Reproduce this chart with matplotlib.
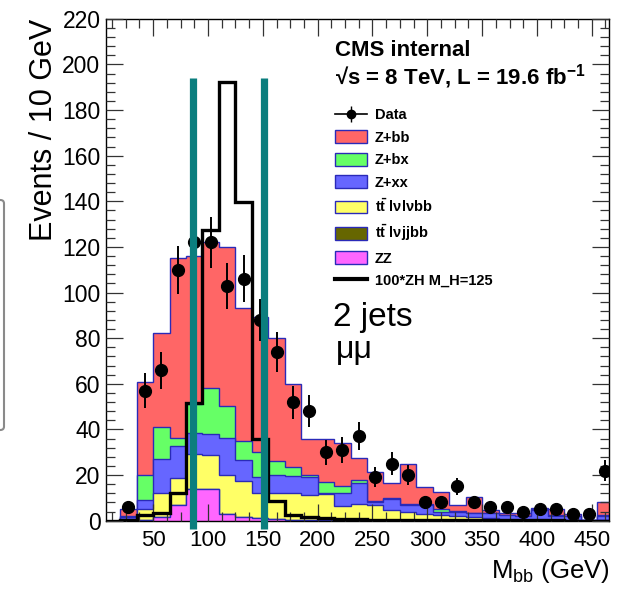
import numpy as np
import matplotlib
matplotlib.use("Agg")
import matplotlib.pyplot as plt
from matplotlib.patches import Rectangle, FancyBboxPatch
from matplotlib.lines import Line2D
from matplotlib.legend_handler import HandlerTuple
from matplotlib.ticker import MultipleLocator

plt.rcParams['font.family'] = ['Liberation Sans', 'DejaVu Sans']
plt.rcParams['mathtext.fontset'] = 'custom'
plt.rcParams['mathtext.rm'] = 'Liberation Sans'
plt.rcParams['mathtext.bf'] = 'Liberation Sans:bold'
plt.rcParams['mathtext.it'] = 'Liberation Sans:italic'
plt.rcParams['mathtext.default'] = 'regular'

# ---------------- data (15 GeV bins starting at 20 GeV) ----------------
BIN_LO = 20
BIN_W = 15
data = [6, 57, 66, 110, 122, 122, 103, 106, 88, 74, 52, 48, 30, 31, 37,
        19, 25, 20, 8, 8, 15, 8, 6, 6, 4, 5, 5, 3, 3, 22]
zz = [0.2, 0.5, 1.5, 7, 14, 14, 3, 1.5, 1, 0.8, 0.5, 0.5, 0.4, 0.4, 0.3,
      0.3, 0.3, 0.2, 0.2, 0.2, 0.1, 0.1, 0.1, 0.1, 0.1, 0.1, 0.1, 0.1, 0.0, 0.1]
tt_lvjjbb = [0.0, 0.0, 0.1, 0.1, 0.1, 0.1, 0.1, 0.1, 0.1, 0.0, 0.0, 0.0, 0.0, 0.0, 0.0,
             0.0, 0.0, 0.0, 0.0, 0.0, 0.0, 0.0, 0.0, 0.0, 0.0, 0.0, 0.0, 0.0, 0.0, 0.0]
tt_lvlvbb = [0.6, 4.5, 10.5, 11.5, 15, 14.5, 17, 16, 11, 11.2, 11.5, 10.7, 11.1, 6.1, 7.2,
             6.6, 4.4, 3.8, 2.8, 2.3, 1.9, 1.7, 0.9, 0.4, 0.4, 0.4, 0.4, 0.2, 0.1, 0.4]
z_xx = [1.0, 4, 15, 14, 9.5, 9.5, 16, 9, 7, 8, 7.5, 8.1, 0.5, 5.5, 9.2,
        1.1, 5, 2.9, 4, 1.5, 2, 1.4, 2.2, 2, 1.5, 4.3, 1.5, 1.7, 0.1, 1.5]
z_bx = [0.4, 11, 14, 3.5, 12.5, 20, 14, 8.5, 11, 6, 4, 0.7, 5, 3, 1.3,
        0.5, 0.3, 0.3, 0.3, 1, 0.3, 0.3, 0.2, 0.2, 0.2, 0.2, 0.5, 0.2, 0.05, 0.5]
z_bb = [2.8, 41, 41, 79, 65, 64, 70, 58, 59, 54, 36.5, 16, 18.7, 19.2, 9.3,
        13, 6.4, 17.5, 7.4, 7.4, 2.5, 7, 1.1, 0.8, 1, 0.4, 2.5, 0.7, 0.05, 5.8]
signal_zh = [0.3, 2.5, 3.5, 12.3, 51.5, 127.4, 192.4, 139.8, 35.8, 8.5, 2.5, 1.5, 1.2, 0.8, 0.6,
             0.5, 0.4, 0.3, 0.3, 0.2, 0.2, 0.1, 0.1, 0.1, 0.1, 0.1, 0.1, 0.0, 0.0, 0.0]
window = [86.5, 151.5]

labels = ["Z+bb", "Z+bx", "Z+xx", r"$\mathbf{t\bar{t}}$ l$\nu$l$\nu$bb",
          r"$\mathbf{t\bar{t}}$ l$\nu$jjbb", "ZZ"]
XMIN, XMAX = 7, 466

# ---------------- figure ----------------
W, H = 621, 589
fig = plt.figure(figsize=(W / 100, H / 100), dpi=100)
L, R, T, B = 106, 609.3, 18.8, 520.7
ax = fig.add_axes([L / W, 1 - B / H, (R - L) / W, (B - T) / H])

edges = BIN_LO + BIN_W * np.arange(len(data) + 1)
centers = 0.5 * (edges[:-1] + edges[1:])

comps = [(zz, '#ff66ff'), (tt_lvjjbb, '#666600'), (tt_lvlvbb, '#ffff66'),
         (z_xx, '#6666ff'), (z_bx, '#66ff66'), (z_bb, '#ff6666')]
cum = np.cumsum([np.array(c, float) for c, _ in comps], axis=0)
outline = '#2a2ab8'
for k in range(len(comps) - 1, -1, -1):
    ax.stairs(cum[k], edges, baseline=0, fill=True, facecolor=comps[k][1],
              edgecolor=outline, lw=1.0, zorder=1)

ax.stairs(np.r_[0.0, signal_zh], np.r_[XMIN, edges], baseline=0,
          color='k', lw=2.4, zorder=3)

d = np.array(data, float)
ax.errorbar(centers, d, yerr=np.sqrt(d), fmt='o', color='k', ms=8.5,
            elinewidth=1.4, capsize=0, zorder=4)

ax.vlines(window, -3.6, 194, color='#0b7e7e', lw=5.2, zorder=6, clip_on=False)

ax.set_xlim(XMIN, XMAX)
ax.set_ylim(0, 220)
ax.xaxis.set_major_locator(MultipleLocator(50))
ax.xaxis.set_minor_locator(MultipleLocator(12.5))
ax.yaxis.set_major_locator(MultipleLocator(20))
ax.yaxis.set_minor_locator(MultipleLocator(4))
ax.set_axisbelow(False)
ax.tick_params(which='both', direction='in', top=True, right=True,
               color='#333333', width=0.9)
ax.tick_params(which='major', length=12.5)
ax.tick_params(which='minor', length=6.5)
ax.tick_params(axis='x', labelsize=16, pad=7)
ax.tick_params(axis='y', labelsize=16.5, pad=4)
for s in ax.spines.values():
    s.set_linewidth(1.0)

ax.set_ylabel("Events / 10 GeV", fontsize=22, loc='top')
ax.yaxis.set_label_coords(-0.093, 1.0)
ax.set_xlabel(r"M$_{\mathregular{bb}}$ (GeV)", fontsize=18.5, loc='right')
ax.xaxis.set_label_coords(1.0, -0.072)

# legend
hs = [(Line2D([], [], color='k', lw=1.2),
       Line2D([], [], color='k', marker='o', ms=6, lw=0),
       Line2D([], [], color='k', marker='|', ms=12, lw=0))]
names = ["Data"]
for k in range(len(comps) - 1, -1, -1):
    hs.append(Rectangle((0, 0), 1, 1, facecolor=comps[k][1], edgecolor=outline, lw=1))
for lab in labels:
    names.append(lab)
hs.append(Line2D([], [], color='k', lw=3))
names.append("100*ZH M_H=125")
leg = ax.legend(hs, names, loc='upper left', bbox_to_anchor=(335 / W, 1 - 108 / H),
                bbox_transform=fig.transFigure, frameon=False, borderpad=0,
                borderaxespad=0, handlelength=2.2, handleheight=0.98,
                handletextpad=0.55, labelspacing=0.55,
                prop={'weight': 'bold', 'size': 10.5},
                handler_map={tuple: HandlerTuple(ndivide=1)})

fig.text(335 / W, 1 - 56 / H, "CMS internal", fontsize=16, fontweight='bold',
         ha='left', va='baseline')
fig.text(335 / W, 1 - 83.5 / H, "√s = 8 TeV, L = 19.6 fb$^{\\mathbf{-1}}$",
         fontsize=16, fontweight='bold', ha='left', va='baseline')
fig.text(333 / W, 1 - 326 / H, "2 jets", fontsize=24, ha='left', va='baseline')
fig.text(336 / W, 1 - 358 / H, "μμ", fontsize=23, ha='left', va='baseline')

# partial UI frame visible at the left edge of the screenshot
fig.add_artist(FancyBboxPatch((-30 / W, 1 - 430 / H), 34 / W, 230 / H,
                              boxstyle="round,pad=0,rounding_size=0.006",
                              transform=fig.transFigure, facecolor='none',
                              edgecolor='#8a8a8a', lw=1.5))

fig.savefig("out.png", dpi=100)
